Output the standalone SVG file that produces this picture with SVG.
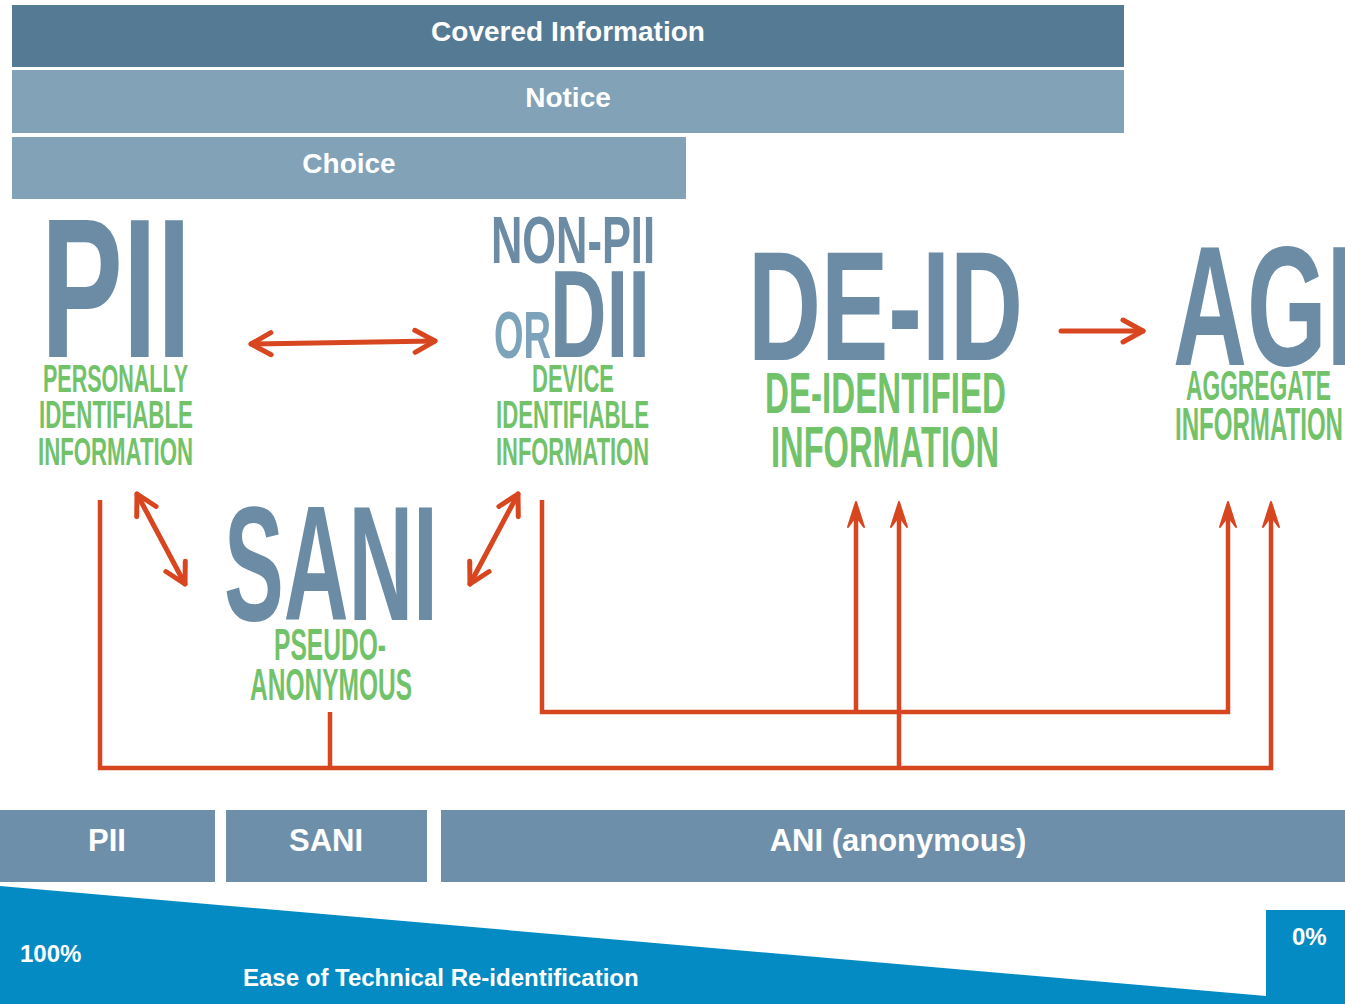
<svg xmlns="http://www.w3.org/2000/svg" width="1345" height="1004" viewBox="0 0 1345 1004">
  <style>
    .bar-dark { fill: #557a94; }
    .bar-light { fill: #81a2b7; }
    .bar-mid { fill: #6d8fa9; }
    .bar-text { font-family: "Liberation Sans", Arial, sans-serif; font-weight: bold; fill: #ffffff; text-anchor: middle; }
    .big { font-family: "Liberation Sans", Arial, sans-serif; font-weight: bold; fill: #6b8ca4; }
    .big-light { font-family: "Liberation Sans", Arial, sans-serif; font-weight: bold; fill: #7da3bb; }
    .sub { font-family: "Liberation Sans", Arial, sans-serif; font-weight: bold; fill: #72c26a; }
    .scale-text { font-family: "Liberation Sans", Arial, sans-serif; font-weight: bold; fill: #ffffff; font-size: 24px; }
    .link { fill: none; stroke: #d8461f; stroke-width: 4.5; }
    .duo { fill: none; stroke: #d8461f; stroke-width: 5; stroke-linecap: round; }
  </style>
  <defs>
    <!-- open chevron head for the two-way and flow arrows -->
    <marker id="chevron" viewBox="-24 -15 30 30" markerWidth="30" markerHeight="30" refX="0" refY="0" markerUnits="userSpaceOnUse" orient="auto-start-reverse">
      <path d="M-20,-11 L0,0 L-20,11" fill="none" stroke="#d8461f" stroke-width="5" stroke-linecap="round" stroke-linejoin="round"/>
    </marker>
    <!-- notched solid head for the routing lines -->
    <marker id="spear" viewBox="-14 -11 32 22" markerWidth="32" markerHeight="22" refX="0" refY="0" markerUnits="userSpaceOnUse" orient="auto">
      <path d="M14,0 L-11,-8 L0,0 L-11,8 Z" fill="#d8461f" stroke="#d8461f" stroke-width="2" stroke-linejoin="round"/>
    </marker>
  </defs>

  <!-- policy layers -->
  <g id="bar-covered">
    <rect class="bar-dark" x="12" y="5" width="1112" height="62"/>
    <text class="bar-text" x="568" y="41" font-size="28">Covered Information</text>
  </g>
  <g id="bar-notice">
    <rect class="bar-light" x="12" y="70" width="1112" height="63"/>
    <text class="bar-text" x="568" y="107" font-size="28">Notice</text>
  </g>
  <g id="bar-choice">
    <rect class="bar-light" x="12" y="137" width="674" height="62"/>
    <text class="bar-text" x="349" y="173" font-size="28">Choice</text>
  </g>

  <!-- data categories -->
  <g id="node-pii">
    <text class="big" x="41" y="357" font-size="198" textLength="150" lengthAdjust="spacingAndGlyphs">PII</text>
    <text class="sub" x="43" y="392" font-size="38" textLength="145" lengthAdjust="spacingAndGlyphs">PERSONALLY</text>
    <text class="sub" x="39" y="428" font-size="38" textLength="154" lengthAdjust="spacingAndGlyphs">IDENTIFIABLE</text>
    <text class="sub" x="38" y="465" font-size="39" textLength="155" lengthAdjust="spacingAndGlyphs">INFORMATION</text>
  </g>

  <g id="node-nonpii">
    <text class="big" x="491" y="263" font-size="66" textLength="164" lengthAdjust="spacingAndGlyphs">NON-PII</text>
    <text class="big-light" x="494" y="358" font-size="66" textLength="57" lengthAdjust="spacingAndGlyphs">OR</text>
    <text class="big" x="550" y="357" font-size="124" textLength="100" lengthAdjust="spacingAndGlyphs">DII</text>
    <text class="sub" x="532" y="392" font-size="38" textLength="82" lengthAdjust="spacingAndGlyphs">DEVICE</text>
    <text class="sub" x="496" y="428" font-size="38" textLength="153" lengthAdjust="spacingAndGlyphs">IDENTIFIABLE</text>
    <text class="sub" x="496" y="465" font-size="39" textLength="153" lengthAdjust="spacingAndGlyphs">INFORMATION</text>
  </g>

  <g id="node-deid">
    <text class="big" x="748" y="360" font-size="156" textLength="275" lengthAdjust="spacingAndGlyphs">DE-ID</text>
    <text class="sub" x="765" y="413" font-size="57" textLength="241" lengthAdjust="spacingAndGlyphs">DE-IDENTIFIED</text>
    <text class="sub" x="771" y="467" font-size="58" textLength="228" lengthAdjust="spacingAndGlyphs">INFORMATION</text>
  </g>

  <g id="node-agi">
    <text class="big" x="1173" y="365" font-size="170" textLength="182" lengthAdjust="spacingAndGlyphs">AGI</text>
    <text class="sub" x="1186" y="400" font-size="42" textLength="145" lengthAdjust="spacingAndGlyphs">AGGREGATE</text>
    <text class="sub" x="1175" y="440" font-size="46" textLength="168" lengthAdjust="spacingAndGlyphs">INFORMATION</text>
  </g>

  <g id="node-sani">
    <text class="big" x="224" y="620" font-size="163" textLength="214" lengthAdjust="spacingAndGlyphs">SANI</text>
    <text class="sub" x="274" y="660" font-size="45" textLength="112" lengthAdjust="spacingAndGlyphs">PSEUDO-</text>
    <text class="sub" x="250" y="700" font-size="45" textLength="162" lengthAdjust="spacingAndGlyphs">ANONYMOUS</text>
  </g>

  <!-- relations between categories -->
  <g id="connectors">
    <path class="duo" d="M251,344 L435,341" marker-start="url(#chevron)" marker-end="url(#chevron)"/>
    <path class="duo" d="M137,494 L185,584" marker-start="url(#chevron)" marker-end="url(#chevron)"/>
    <path class="duo" d="M518,494 L470,584" marker-start="url(#chevron)" marker-end="url(#chevron)"/>
    <path class="duo" d="M1061,331 L1143,331" marker-end="url(#chevron)"/>

    <path class="link" d="M100,500 V768 H1271 V516" marker-end="url(#spear)"/>
    <path class="link" d="M330,712 V768"/>
    <path class="link" d="M899,768 V516" marker-end="url(#spear)"/>
    <path class="link" d="M542,500 V712 H1228 V516" marker-end="url(#spear)"/>
    <path class="link" d="M856,712 V516" marker-end="url(#spear)"/>
  </g>

  <!-- identifiability bands -->
  <g id="bar-pii">
    <rect class="bar-mid" x="0" y="810" width="215" height="72"/>
    <text class="bar-text" x="107" y="851" font-size="31">PII</text>
  </g>
  <g id="bar-sani">
    <rect class="bar-mid" x="226" y="810" width="201" height="72"/>
    <text class="bar-text" x="326" y="851" font-size="31">SANI</text>
  </g>
  <g id="bar-ani">
    <rect class="bar-mid" x="441" y="810" width="904" height="72"/>
    <text class="bar-text" x="898" y="851" font-size="31">ANI (anonymous)</text>
  </g>

  <!-- re-identification scale -->
  <g id="scale">
    <polygon points="0,886 1266,996 1266,910 1345,910 1345,1004 0,1004" fill="#048bc4"/>
    <text class="scale-text" x="20" y="962">100%</text>
    <text class="scale-text" x="243" y="986">Ease of Technical Re-identification</text>
    <text class="scale-text" x="1292" y="945">0%</text>
  </g>
</svg>
